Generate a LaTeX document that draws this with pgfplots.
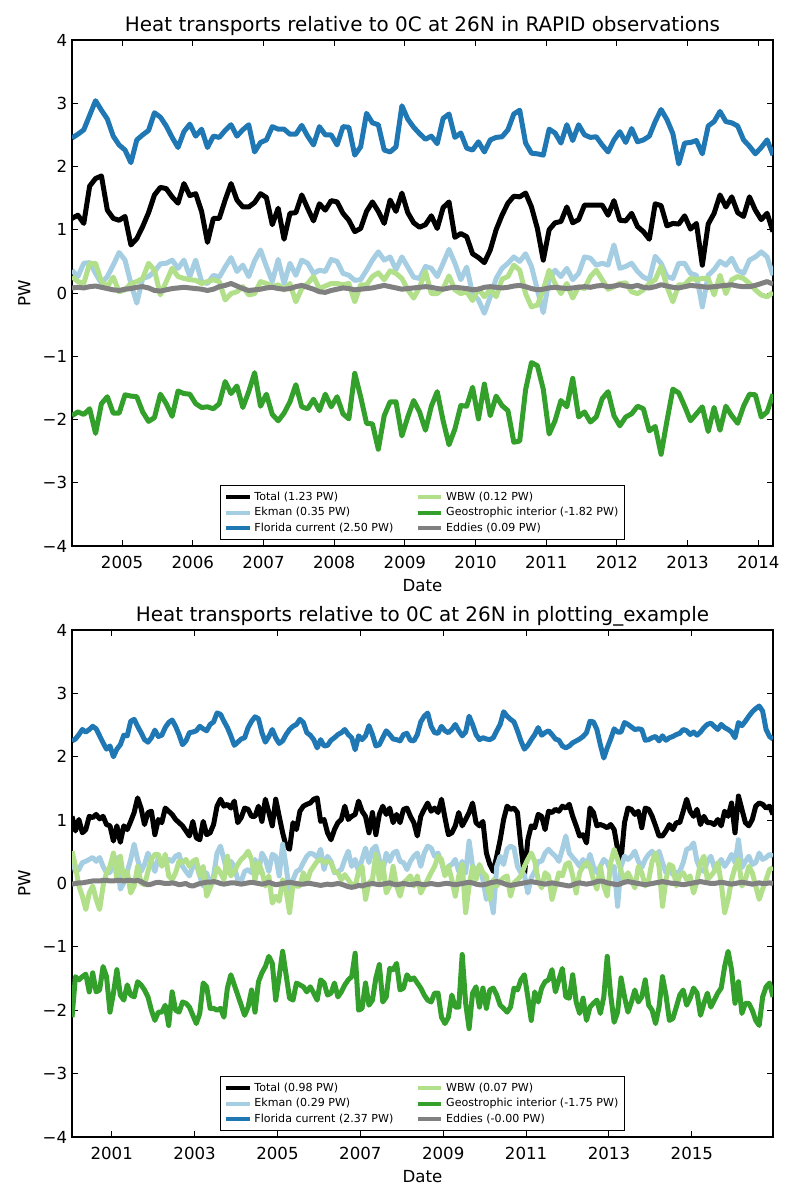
\documentclass[border=0pt]{standalone}
\usepackage{pgfplots}
\pgfplotsset{compat=1.18}
\usepackage{pgfplotstable}
\usepackage{fontspec}
\setmainfont{DejaVu Sans}
\definecolor{cTot}{HTML}{000000}
\definecolor{cEk}{HTML}{A6CEE3}
\definecolor{cFl}{HTML}{1F78B4}
\definecolor{cWb}{HTML}{B2DF8A}
\definecolor{cGe}{HTML}{33A02C}
\definecolor{cEd}{HTML}{808080}

% ---------------- top panel (RAPID), monthly from Apr 2004 ----------------
\pgfplotstableread[row sep=\\]{y\\
1.18\\1.23\\1.10\\1.69\\1.81\\1.85\\1.31\\1.18\\1.15\\1.21\\
0.76\\0.86\\1.05\\1.27\\1.55\\1.67\\1.65\\1.52\\1.42\\1.73\\
1.54\\1.57\\1.29\\0.80\\1.18\\1.18\\1.47\\1.73\\1.47\\1.36\\
1.36\\1.43\\1.57\\1.51\\1.08\\1.34\\0.85\\1.26\\1.27\\1.55\\
1.34\\1.14\\1.41\\1.31\\1.46\\1.44\\1.26\\1.15\\0.97\\1.02\\
1.29\\1.44\\1.29\\1.10\\1.47\\1.29\\1.58\\1.27\\1.11\\1.04\\
1.08\\1.22\\1.02\\1.35\\1.44\\0.88\\0.94\\0.89\\0.62\\0.56\\
0.48\\0.68\\1.00\\1.23\\1.42\\1.53\\1.52\\1.58\\1.36\\1.02\\
0.52\\1.00\\1.11\\1.13\\1.36\\1.11\\1.16\\1.39\\1.39\\1.39\\
1.39\\1.23\\1.46\\1.15\\1.14\\1.26\\1.05\\0.97\\0.85\\1.41\\
1.38\\1.06\\1.10\\1.09\\1.22\\1.01\\1.10\\0.44\\1.09\\1.26\\
1.55\\1.36\\1.52\\1.27\\1.21\\1.52\\1.31\\1.16\\1.26\\0.97\\
}\tTtot
\pgfplotstableread[row sep=\\]{y\\
0.36\\0.26\\0.47\\0.48\\0.31\\0.15\\0.26\\0.44\\0.64\\0.52\\
0.15\\-0.16\\0.23\\0.26\\0.34\\0.46\\0.47\\0.52\\0.39\\0.52\\
0.26\\0.52\\0.18\\0.15\\0.28\\0.25\\0.41\\0.56\\0.34\\0.44\\
0.26\\0.51\\0.68\\0.42\\0.18\\0.53\\0.15\\0.47\\0.28\\0.52\\
0.47\\0.31\\0.36\\0.34\\0.53\\0.50\\0.31\\0.28\\0.20\\0.21\\
0.36\\0.52\\0.65\\0.52\\0.57\\0.37\\0.57\\0.41\\0.25\\0.23\\
0.42\\0.39\\0.26\\0.47\\0.69\\0.47\\0.21\\0.41\\-0.01\\-0.11\\
-0.32\\-0.06\\0.23\\0.39\\0.47\\0.57\\0.50\\0.62\\0.42\\0.05\\
-0.31\\0.21\\0.36\\0.26\\0.39\\0.21\\0.31\\0.57\\0.55\\0.44\\
0.47\\0.44\\0.76\\0.39\\0.42\\0.47\\0.34\\0.25\\0.21\\0.58\\
0.47\\0.26\\0.23\\0.47\\0.47\\0.31\\0.28\\-0.22\\0.28\\0.37\\
0.50\\0.44\\0.55\\0.36\\0.31\\0.52\\0.57\\0.65\\0.57\\0.28\\
}\tTek
\pgfplotstableread[row sep=\\]{y\\
2.45\\2.51\\2.58\\2.81\\3.04\\2.89\\2.75\\2.48\\2.34\\2.26\\
2.06\\2.42\\2.50\\2.57\\2.85\\2.78\\2.64\\2.46\\2.30\\2.55\\
2.67\\2.48\\2.59\\2.30\\2.48\\2.46\\2.57\\2.66\\2.48\\2.58\\
2.66\\2.23\\2.38\\2.42\\2.63\\2.59\\2.59\\2.51\\2.51\\2.65\\
2.48\\2.34\\2.63\\2.50\\2.50\\2.34\\2.63\\2.62\\2.18\\2.31\\
2.84\\2.69\\2.66\\2.26\\2.23\\2.31\\2.96\\2.75\\2.62\\2.52\\
2.43\\2.48\\2.36\\2.76\\2.83\\2.46\\2.53\\2.29\\2.26\\2.39\\
2.23\\2.42\\2.46\\2.47\\2.58\\2.83\\2.89\\2.37\\2.21\\2.20\\
2.18\\2.59\\2.53\\2.37\\2.66\\2.41\\2.66\\2.50\\2.46\\2.47\\
2.34\\2.23\\2.42\\2.55\\2.38\\2.60\\2.39\\2.42\\2.48\\2.71\\
2.90\\2.74\\2.52\\2.04\\2.37\\2.38\\2.41\\2.20\\2.64\\2.71\\
2.87\\2.71\\2.69\\2.64\\2.42\\2.32\\2.20\\2.30\\2.42\\2.18\\
}\tTfl
\pgfplotstableread[row sep=\\]{y\\
0.26\\0.18\\0.15\\0.47\\0.47\\0.18\\0.10\\0.25\\0.02\\0.05\\
0.15\\0.18\\0.23\\0.47\\0.36\\-0.03\\0.18\\0.39\\0.26\\0.23\\
0.21\\0.20\\0.15\\0.18\\0.21\\0.18\\-0.11\\-0.01\\0.02\\0.10\\
-0.03\\-0.01\\0.18\\0.15\\0.10\\0.13\\0.05\\0.15\\-0.14\\0.07\\
0.15\\0.26\\0.07\\0.11\\0.15\\0.15\\0.13\\0.15\\-0.14\\0.13\\
0.13\\0.26\\0.32\\0.21\\0.35\\0.31\\0.23\\0.05\\-0.08\\0.09\\
0.34\\-0.01\\-0.01\\0.07\\0.27\\0.05\\-0.01\\0.02\\-0.12\\0.07\\
-0.06\\0.06\\-0.06\\0.22\\0.26\\0.44\\0.36\\-0.01\\-0.22\\-0.19\\
0.05\\0.36\\0.15\\-0.01\\0.15\\-0.08\\0.10\\0.07\\0.26\\0.36\\
0.21\\0.06\\0.10\\0.15\\0.16\\0.02\\-0.01\\0.05\\0.15\\0.21\\
0.42\\0.10\\-0.14\\0.13\\0.13\\0.23\\0.21\\0.23\\0.23\\-0.03\\
0.28\\-0.01\\0.21\\0.26\\0.23\\0.15\\0.05\\-0.03\\-0.06\\0.01\\
}\tTwb
\pgfplotstableread[row sep=\\]{y\\
-1.94\\-1.88\\-1.92\\-1.83\\-2.22\\-1.75\\-1.64\\-1.90\\-1.90\\-1.61\\
-1.63\\-1.64\\-1.88\\-2.03\\-1.97\\-1.60\\-1.75\\-1.95\\-1.55\\-1.59\\
-1.60\\-1.75\\-1.81\\-1.80\\-1.83\\-1.75\\-1.40\\-1.59\\-1.47\\-1.81\\
-1.56\\-1.26\\-1.79\\-1.60\\-1.92\\-2.02\\-1.90\\-1.72\\-1.45\\-1.80\\
-1.83\\-1.68\\-1.86\\-1.60\\-1.80\\-1.64\\-1.91\\-1.99\\-1.27\\-1.64\\
-2.06\\-2.07\\-2.47\\-1.94\\-1.72\\-1.72\\-2.26\\-1.96\\-1.70\\-1.88\\
-2.17\\-1.79\\-1.56\\-2.02\\-2.40\\-2.15\\-1.78\\-1.79\\-1.49\\-1.99\\
-1.44\\-1.94\\-1.63\\-1.78\\-1.86\\-2.36\\-2.34\\-1.53\\-1.10\\-1.15\\
-1.52\\-2.23\\-2.02\\-1.70\\-1.80\\-1.35\\-1.96\\-1.88\\-2.04\\-1.96\\
-1.67\\-1.56\\-1.94\\-2.10\\-1.96\\-1.91\\-1.79\\-1.83\\-2.18\\-2.11\\
-2.55\\-2.02\\-1.52\\-1.58\\-1.79\\-2.02\\-1.91\\-1.80\\-2.19\\-1.81\\
-2.17\\-1.79\\-1.94\\-2.06\\-1.79\\-1.60\\-1.61\\-1.96\\-1.88\\-1.60\\
}\tTge
\pgfplotstableread[row sep=\\]{y\\
0.08\\0.09\\0.08\\0.10\\0.11\\0.09\\0.07\\0.05\\0.04\\0.06\\
0.07\\0.09\\0.10\\0.08\\0.04\\0.03\\0.05\\0.07\\0.08\\0.09\\
0.08\\0.07\\0.06\\0.04\\0.06\\0.10\\0.12\\0.15\\0.11\\0.07\\
0.04\\0.05\\0.06\\0.08\\0.09\\0.07\\0.06\\0.07\\0.10\\0.12\\
0.09\\0.06\\0.02\\0.01\\0.04\\0.06\\0.08\\0.07\\0.05\\0.06\\
0.07\\0.08\\0.10\\0.12\\0.10\\0.08\\0.06\\0.07\\0.08\\0.09\\
0.10\\0.09\\0.07\\0.06\\0.08\\0.09\\0.08\\0.07\\0.05\\0.06\\
0.09\\0.10\\0.09\\0.08\\0.09\\0.11\\0.12\\0.10\\0.07\\0.05\\
0.06\\0.08\\0.09\\0.08\\0.07\\0.08\\0.09\\0.10\\0.09\\0.11\\
0.12\\0.10\\0.11\\0.13\\0.11\\0.10\\0.12\\0.09\\0.08\\0.10\\
0.13\\0.11\\0.09\\0.08\\0.10\\0.12\\0.11\\0.10\\0.09\\0.10\\
0.11\\0.12\\0.13\\0.11\\0.10\\0.10\\0.12\\0.15\\0.18\\0.14\\
}\tTed

% ---------------- bottom panel (plotting_example), monthly 2000-2016 ----------------
\pgfplotstableread[row sep=\\]{y\\
1.06\\0.83\\1.01\\0.80\\0.85\\1.06\\1.04\\1.09\\1.02\\1.06\\
0.93\\0.91\\0.67\\0.91\\0.65\\0.91\\0.85\\0.98\\1.12\\1.35\\
1.19\\0.93\\1.12\\1.14\\0.77\\1.01\\0.96\\1.19\\1.14\\1.09\\
1.01\\0.96\\0.91\\0.83\\0.75\\0.98\\0.72\\0.69\\0.98\\0.77\\
0.80\\0.93\\1.22\\1.33\\1.22\\1.25\\1.19\\1.30\\0.96\\1.04\\
1.19\\1.17\\1.06\\1.06\\1.22\\0.98\\1.33\\1.12\\0.91\\1.33\\
1.06\\0.80\\0.59\\0.54\\0.96\\0.85\\1.14\\1.22\\1.25\\1.27\\
1.33\\1.35\\0.98\\1.01\\0.80\\0.69\\0.85\\0.96\\1.01\\1.22\\
1.01\\1.06\\1.09\\1.30\\1.14\\1.06\\0.80\\1.12\\0.77\\1.09\\
1.22\\1.09\\1.19\\0.96\\1.09\\0.96\\1.17\\1.19\\1.06\\0.96\\
0.75\\
1.06\\1.17\\1.27\\1.14\\1.19\\1.12\\1.33\\1.04\\0.77\\0.80\\
0.91\\1.12\\0.91\\1.01\\1.12\\1.27\\0.96\\0.91\\0.98\\0.48\\
0.30\\0.19\\0.43\\0.69\\1.01\\
1.22\\1.17\\1.19\\1.12\\0.59\\0.12\\0.69\\0.91\\0.88\\1.09\\
1.06\\0.85\\1.14\\1.12\\1.17\\1.14\\1.22\\1.19\\1.25\\1.06\\
0.91\\0.75\\0.77\\0.64\\
1.19\\1.12\\0.91\\0.93\\0.91\\0.88\\0.93\\0.85\\0.54\\0.38\\
0.96\\1.19\\1.17\\1.09\\1.14\\0.88\\1.19\\1.17\\1.06\\0.91\\
0.75\\0.75\\0.83\\0.93\\
0.85\\0.96\\0.96\\1.14\\1.33\\1.14\\1.06\\1.17\\0.93\\1.06\\
0.96\\0.96\\0.93\\1.01\\0.91\\1.14\\1.06\\1.27\\0.80\\1.38\\
1.17\\0.96\\0.91\\1.01\\
1.22\\1.27\\1.25\\1.19\\1.22\\1.09\\
}\tBtot
\pgfplotstableread[row sep=\\]{y\\
0.38\\0.19\\0.22\\0.33\\0.35\\0.38\\0.41\\0.35\\0.41\\0.27\\
0.17\\0.17\\0.38\\0.41\\-0.09\\0.01\\0.19\\0.38\\0.62\\0.38\\
0.19\\0.30\\0.48\\0.35\\0.19\\0.41\\0.30\\0.35\\0.38\\0.35\\
0.43\\0.46\\0.27\\0.19\\0.12\\0.27\\0.30\\0.12\\-0.04\\0.17\\
-0.04\\0.12\\0.48\\0.59\\0.38\\0.17\\0.35\\0.27\\0.06\\0.04\\
0.19\\0.22\\0.17\\0.38\\0.17\\0.48\\0.38\\0.19\\0.46\\0.43\\
0.12\\0.62\\0.27\\-0.15\\0.06\\0.19\\0.22\\0.33\\0.43\\0.48\\
0.46\\0.41\\0.54\\0.22\\0.43\\0.35\\0.17\\0.19\\0.22\\0.38\\
0.51\\0.27\\0.38\\0.19\\0.38\\0.56\\0.33\\0.54\\0.59\\0.38\\
0.19\\0.48\\0.35\\0.48\\0.51\\0.35\\0.33\\0.22\\0.35\\0.43\\
0.48\\
0.27\\0.48\\0.59\\0.56\\0.43\\0.48\\0.33\\0.14\\0.27\\0.30\\
0.38\\0.19\\0.35\\0.17\\0.67\\0.27\\0.22\\0.25\\0.06\\-0.25\\
-0.15\\-0.46\\0.27\\0.43\\0.30\\
0.54\\0.59\\0.56\\0.27\\0.17\\0.14\\-0.15\\0.09\\0.19\\0.35\\
0.35\\0.48\\0.54\\0.48\\0.43\\0.35\\0.54\\0.75\\0.48\\0.41\\
0.35\\0.27\\0.38\\0.27\\
0.46\\0.27\\0.17\\0.27\\0.38\\0.33\\0.19\\0.27\\-0.36\\0.27\\
0.43\\0.38\\0.43\\0.51\\0.35\\0.25\\0.38\\0.46\\0.51\\0.38\\
0.51\\0.33\\0.17\\0.27\\
0.14\\0.17\\0.19\\0.33\\0.54\\0.56\\0.64\\0.35\\0.22\\0.19\\
0.35\\0.43\\0.25\\0.27\\0.38\\0.27\\0.35\\0.46\\0.33\\0.69\\
0.25\\0.35\\0.43\\0.30\\
0.33\\0.48\\0.38\\0.41\\0.46\\0.43\\
}\tBek
\pgfplotstableread[row sep=\\]{y\\
2.25\\2.28\\2.35\\2.43\\2.39\\2.43\\2.48\\2.44\\2.33\\2.22\\
2.12\\2.17\\2.00\\2.12\\2.19\\2.34\\2.33\\2.56\\2.59\\2.48\\
2.38\\2.27\\2.23\\2.30\\2.42\\2.32\\2.34\\2.46\\2.54\\2.58\\
2.48\\2.35\\2.19\\2.25\\2.38\\2.39\\2.41\\2.48\\2.44\\2.41\\
2.51\\2.55\\2.69\\2.67\\2.56\\2.46\\2.33\\2.18\\2.23\\2.28\\
2.30\\2.46\\2.56\\2.63\\2.60\\2.38\\2.23\\2.32\\2.43\\2.30\\
2.21\\2.25\\2.35\\2.43\\2.48\\2.51\\2.59\\2.54\\2.38\\2.34\\
2.27\\2.14\\2.27\\2.17\\2.18\\2.26\\2.30\\2.35\\2.38\\2.43\\
2.35\\2.30\\2.11\\2.33\\2.27\\2.33\\2.49\\2.35\\2.17\\2.19\\
2.30\\2.41\\2.35\\2.28\\2.27\\2.25\\2.35\\2.37\\2.26\\2.25\\
2.35\\
2.55\\2.64\\2.69\\2.48\\2.38\\2.37\\2.48\\2.41\\2.38\\2.43\\
2.51\\2.41\\2.33\\2.39\\2.64\\2.51\\2.35\\2.27\\2.30\\2.28\\
2.27\\2.30\\2.41\\2.51\\2.71\\2.64\\2.59\\2.55\\2.41\\2.25\\
2.12\\2.18\\2.27\\2.35\\2.46\\2.34\\2.38\\2.41\\2.35\\2.28\\
2.26\\2.17\\2.14\\2.17\\2.22\\2.25\\2.28\\2.32\\2.38\\2.56\\
2.55\\2.43\\2.19\\1.98\\2.14\\2.28\\2.44\\2.39\\2.39\\2.54\\
2.51\\2.47\\2.43\\2.44\\2.43\\2.26\\2.27\\2.30\\2.32\\2.25\\
2.33\\2.26\\2.30\\2.32\\2.35\\2.37\\2.43\\2.41\\2.35\\2.39\\
2.34\\2.39\\2.46\\2.51\\2.53\\2.48\\2.43\\2.51\\2.46\\2.43\\
2.39\\2.30\\2.54\\2.49\\2.56\\2.64\\2.71\\2.76\\2.80\\2.72\\
2.43\\2.32\\2.28\\
}\tBfl
\pgfplotstableread[row sep=\\]{y\\
0.51\\0.27\\-0.04\\-0.20\\-0.41\\-0.15\\-0.04\\-0.25\\-0.41\\-0.04\\
0.17\\0.27\\0.48\\0.06\\0.43\\0.06\\0.19\\-0.15\\-0.04\\0.27\\
0.01\\-0.02\\0.19\\0.38\\0.46\\0.46\\0.27\\0.46\\0.12\\0.06\\
0.17\\0.35\\0.33\\0.38\\0.27\\0.35\\0.38\\0.12\\0.27\\-0.20\\
-0.07\\0.06\\0.25\\0.17\\0.06\\0.43\\0.12\\0.19\\0.30\\0.38\\
0.43\\0.51\\0.38\\0.06\\0.33\\0.19\\-0.04\\0.12\\-0.31\\-0.20\\
-0.28\\0.06\\-0.12\\-0.46\\-0.02\\-0.04\\-0.04\\0.17\\0.01\\0.19\\
0.27\\0.35\\0.38\\0.33\\0.35\\0.33\\0.19\\0.17\\0.06\\0.14\\
0.06\\-0.02\\-0.04\\0.19\\0.27\\-0.25\\0.01\\0.06\\0.46\\0.06\\
0.33\\-0.15\\-0.04\\0.27\\-0.04\\-0.20\\0.01\\0.06\\0.12\\-0.04\\
0.12\\
-0.15\\-0.04\\0.06\\0.17\\0.27\\0.43\\0.38\\0.12\\0.27\\0.06\\
-0.20\\0.12\\0.30\\-0.46\\-0.04\\0.27\\0.06\\0.30\\0.17\\0.12\\
-0.25\\0.06\\-0.04\\0.04\\0.09\\
0.12\\-0.20\\0.01\\0.06\\0.12\\0.27\\0.38\\0.48\\0.35\\0.06\\
-0.07\\0.17\\0.12\\-0.25\\-0.04\\0.17\\0.12\\0.30\\0.33\\0.12\\
-0.15\\0.17\\0.27\\0.33\\
0.27\\0.06\\-0.09\\0.27\\-0.04\\-0.20\\0.33\\0.54\\0.38\\0.19\\
0.06\\0.17\\0.06\\-0.07\\0.27\\0.17\\-0.04\\0.06\\0.35\\0.48\\
0.27\\-0.36\\0.06\\0.30\\
0.27\\-0.04\\0.12\\0.17\\0.06\\0.12\\-0.15\\0.04\\0.33\\0.43\\
0.06\\0.12\\0.19\\0.33\\0.01\\-0.46\\-0.25\\0.06\\0.25\\0.38\\
-0.04\\0.06\\0.27\\0.17\\
-0.04\\-0.25\\-0.09\\0.06\\0.22\\0.25\\
}\tBwb
\pgfplotstableread[row sep=\\]{y\\
-2.11\\-1.47\\-1.52\\-1.47\\-1.43\\-1.71\\-1.41\\-1.71\\-1.68\\-1.31\\
-1.47\\-2.03\\-1.73\\-1.36\\-1.76\\-1.84\\-1.60\\-1.76\\-1.79\\-1.55\\
-1.60\\-1.68\\-1.79\\-2.00\\-2.16\\-2.03\\-2.03\\-1.92\\-2.24\\-1.71\\
-2.00\\-2.03\\-1.87\\-1.89\\-1.95\\-2.08\\-2.21\\-2.05\\-1.57\\-1.63\\
-1.97\\-1.97\\-2.00\\-1.97\\-2.11\\-1.65\\-1.44\\-1.60\\-1.76\\-1.92\\
-2.08\\-1.95\\-1.68\\-2.03\\-1.55\\-1.41\\-1.31\\-1.15\\-1.26\\-1.84\\
-1.47\\-1.07\\-1.44\\-1.81\\-1.84\\-1.57\\-1.60\\-1.63\\-1.71\\-1.63\\
-1.73\\-1.84\\-1.52\\-1.57\\-1.76\\-1.73\\-1.57\\-1.79\\-1.71\\-1.60\\
-1.52\\-1.47\\-1.10\\-2.00\\-1.97\\-1.57\\-1.92\\-1.84\\-1.49\\-1.28\\
-1.87\\-1.79\\-1.34\\-1.36\\-1.26\\-1.68\\-1.65\\-1.44\\-1.52\\-1.49\\
-1.57\\-1.65\\-1.76\\-1.84\\-1.87\\-1.73\\-1.73\\-2.11\\-2.21\\-2.11\\
-1.76\\-1.95\\-1.95\\-1.12\\-1.89\\-2.29\\-1.73\\-1.63\\-1.95\\-1.65\\
-1.97\\-1.68\\-1.65\\-1.76\\-1.92\\-1.97\\-2.03\\-1.95\\-1.65\\-1.68\\
-1.52\\-1.44\\-1.79\\-2.16\\-1.71\\-1.87\\-1.65\\-1.55\\-1.52\\-1.36\\
-1.71\\-1.52\\-1.34\\-1.79\\-1.81\\-1.44\\-1.87\\-2.05\\-1.81\\-2.16\\
-1.95\\-1.89\\-1.84\\-2.05\\-1.79\\-1.15\\-1.76\\-2.19\\-2.03\\-1.49\\
-1.79\\-2.03\\-1.87\\-1.68\\-1.87\\-1.79\\-1.52\\-1.92\\-2.00\\-2.21\\
-1.95\\-1.47\\-1.76\\-2.16\\-2.13\\-1.95\\-1.76\\-1.68\\-1.92\\-1.81\\
-1.65\\-1.73\\-2.08\\-1.89\\-1.73\\-1.95\\-1.84\\-1.73\\-1.65\\-1.31\\
-1.07\\-1.36\\-1.89\\-1.55\\-2.05\\-1.89\\-1.89\\-2.00\\-2.16\\-2.24\\
-1.79\\-1.63\\-1.57\\-1.79\\
}\tBge
\pgfplotstableread[row sep=\\]{y\\
-0.01\\0.00\\0.01\\0.01\\0.02\\0.03\\0.04\\0.04\\0.04\\0.05\\
0.05\\0.04\\0.04\\0.05\\0.05\\0.04\\0.05\\0.05\\0.04\\0.05\\
0.03\\0.00\\-0.02\\-0.01\\0.01\\0.02\\0.01\\0.00\\0.00\\0.01\\
0.00\\-0.02\\-0.01\\0.00\\-0.03\\-0.04\\-0.02\\0.00\\0.01\\0.02\\
0.02\\0.03\\0.02\\0.00\\-0.01\\0.00\\0.01\\0.01\\0.00\\-0.01\\
0.00\\0.01\\0.02\\0.01\\0.00\\-0.01\\0.00\\0.02\\0.00\\-0.02\\
-0.01\\0.00\\0.01\\0.02\\0.01\\0.00\\-0.01\\-0.01\\0.00\\0.00\\
-0.01\\-0.02\\-0.03\\-0.02\\-0.01\\-0.02\\-0.01\\0.00\\-0.01\\-0.03\\
-0.05\\-0.06\\-0.05\\-0.03\\-0.04\\-0.02\\-0.01\\0.00\\-0.01\\-0.02\\
-0.01\\0.00\\0.01\\-0.01\\-0.02\\-0.01\\0.00\\-0.01\\-0.02\\-0.01\\
0.00\\-0.01\\-0.02\\-0.01\\0.00\\-0.01\\-0.02\\-0.01\\0.00\\0.00\\
-0.01\\-0.02\\-0.01\\0.00\\0.01\\0.02\\0.01\\-0.01\\-0.02\\-0.02\\
-0.01\\0.01\\0.02\\0.03\\0.02\\0.00\\-0.02\\-0.03\\-0.02\\-0.01\\
0.00\\0.01\\0.02\\0.03\\0.02\\0.01\\0.00\\-0.01\\0.00\\0.01\\
0.00\\-0.01\\-0.02\\-0.03\\-0.04\\-0.02\\0.00\\0.01\\0.00\\-0.01\\
0.00\\0.01\\0.03\\0.04\\0.03\\0.01\\0.00\\-0.01\\-0.02\\0.00\\
0.02\\0.03\\0.02\\0.01\\0.00\\-0.01\\-0.02\\-0.01\\0.00\\0.01\\
0.02\\0.03\\0.02\\0.01\\0.00\\0.00\\-0.01\\-0.02\\-0.01\\0.00\\
0.01\\0.02\\0.03\\0.02\\0.01\\0.00\\0.00\\0.01\\0.02\\0.01\\
0.00\\-0.01\\0.00\\0.01\\0.02\\0.01\\0.00\\-0.01\\0.00\\0.01\\
0.00\\0.00\\0.01\\0.00\\
}\tBed

\pgfplotsset{
  heatpanel/.style={
    width=504.72bp, height=364.32bp, scale only axis,
    ymin=-4, ymax=4, ytick={-4,-3,-2,-1,0,1,2,3,4},
    yticklabels={−4,−3,−2,−1,0,1,2,3,4},
    tick align=inside, major tick length=4bp, minor tick num=0,
    axis line style={line width=0.8bp},
    every tick/.style={black, line width=0.7bp},
    tick label style={font=\fontsize{12}{14}\selectfont},
    label style={font=\fontsize{12}{14}\selectfont},
    xticklabel shift=3.5bp, xlabel shift=1bp, ylabel shift=2bp,
    title style={font=\fontsize{14.4}{17}\selectfont, anchor=base},
    xlabel={Date}, ylabel={PW},
    legend columns=2, legend cell align=left,
    legend style={at={(0.5,0)}, anchor=south, yshift=4.3bp,
      font=\fontsize{8}{9.6}\selectfont, draw=black, line width=0.7bp,
      inner xsep=2.6bp, inner ysep=2.4bp, row sep=-0.3bp,
      /tikz/every even column/.append style={column sep=14bp}},
    legend image code/.code={\draw[#1, line width=3bp] (0bp,0bp) -- (17bp,0bp);},
    every axis plot/.append style={line width=3.6bp, line join=round},
  },
}

\begin{document}
\begin{tikzpicture}
\path[use as bounding box] (0,0) rectangle (576bp,864bp);
\begin{axis}[heatpanel, at={(51.84bp,470.88bp)}, anchor=south west,
  xmin=2004.2917, xmax=2014.2083,
  xtick={2005,2006,2007,2008,2009,2010,2011,2012,2013,2014},
  xticklabels={2005,2006,2007,2008,2009,2010,2011,2012,2013,2014},
  title={Heat transports relative to 0C at 26N in RAPID observations}]
\addlegendimage{cTot}\addlegendentry{Total (1.23 PW)}
\addlegendimage{cWb}\addlegendentry{WBW (0.12 PW)}
\addlegendimage{cEk}\addlegendentry{Ekman (0.35 PW)}
\addlegendimage{cGe}\addlegendentry{Geostrophic interior (-1.82 PW)}
\addlegendimage{cFl}\addlegendentry{Florida current (2.50 PW)}
\addlegendimage{cEd}\addlegendentry{Eddies (0.09 PW)}
\addplot[cTot, forget plot] table[x expr=2004.2917+\coordindex/12, y=y] {\tTtot};
\addplot[cEk, forget plot] table[x expr=2004.2917+\coordindex/12, y=y] {\tTek};
\addplot[cFl, forget plot] table[x expr=2004.2917+\coordindex/12, y=y] {\tTfl};
\addplot[cWb, forget plot] table[x expr=2004.2917+\coordindex/12, y=y] {\tTwb};
\addplot[cGe, forget plot] table[x expr=2004.2917+\coordindex/12, y=y] {\tTge};
\addplot[cEd, forget plot] table[x expr=2004.2917+\coordindex/12, y=y] {\tTed};
\end{axis}

\begin{axis}[heatpanel, at={(51.84bp,45.36bp)}, anchor=south west,
  height=365.04bp,
  xmin=2000.0417, xmax=2016.9583,
  xtick={2001,2003,2005,2007,2009,2011,2013,2015},
  xticklabels={2001,2003,2005,2007,2009,2011,2013,2015},
  title={Heat transports relative to 0C at 26N in plotting\_example}]
\addlegendimage{cTot}\addlegendentry{Total (0.98 PW)}
\addlegendimage{cWb}\addlegendentry{WBW (0.07 PW)}
\addlegendimage{cEk}\addlegendentry{Ekman (0.29 PW)}
\addlegendimage{cGe}\addlegendentry{Geostrophic interior (-1.75 PW)}
\addlegendimage{cFl}\addlegendentry{Florida current (2.37 PW)}
\addlegendimage{cEd}\addlegendentry{Eddies (-0.00 PW)}
\addplot[cTot, forget plot] table[x expr=2000+(\coordindex+0.5)/12, y=y] {\tBtot};
\addplot[cEk, forget plot] table[x expr=2000+(\coordindex+0.5)/12, y=y] {\tBek};
\addplot[cFl, forget plot] table[x expr=2000+(\coordindex+0.5)/12, y=y] {\tBfl};
\addplot[cWb, forget plot] table[x expr=2000+(\coordindex+0.5)/12, y=y] {\tBwb};
\addplot[cGe, forget plot] table[x expr=2000+(\coordindex+0.5)/12, y=y] {\tBge};
\addplot[cEd, forget plot] table[x expr=2000+(\coordindex+0.5)/12, y=y] {\tBed};
\end{axis}
\end{tikzpicture}
\end{document}
